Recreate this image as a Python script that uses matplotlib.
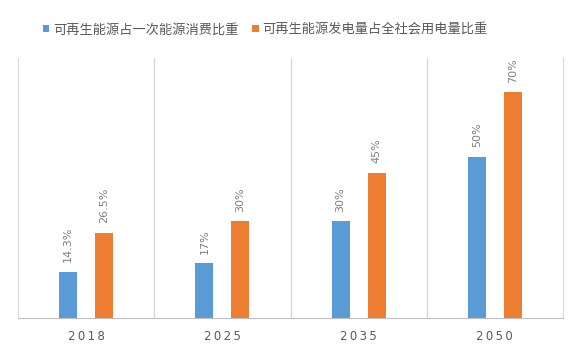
import numpy as np
import matplotlib
matplotlib.use('Agg')
import matplotlib.pyplot as plt

plt.rcParams['font.family'] = ['Noto Sans CJK SC', 'DejaVu Sans']

# data
years = ['2018', '2025', '2035', '2050']
primary_share = [14.3, 17, 30, 50]
power_share = [26.5, 30, 45, 70]
primary_labels = ['14.3%', '17%', '30%', '50%']
power_labels = ['26.5%', '30%', '45%', '70%']
series_names = ['可再生能源占一次能源消费比重', '可再生能源发电量占全社会用电量比重']

blue = '#5B9BD5'
orange = '#ED7D31'
grey = '#595959'
line = '#D9D9D9'

fig = plt.figure(figsize=(5.79, 3.51), dpi=100)
ax = fig.add_axes([18 / 579, 33 / 351, 545 / 579, 260 / 351])

x = np.arange(len(years))
w = 0.132
b1 = ax.bar(x - w, primary_share, w, color=blue, label=series_names[0])
b2 = ax.bar(x + w, power_share, w, color=orange, label=series_names[1])

# value labels, rotated like the original
for bars, labs in ((b1, primary_labels), (b2, power_labels)):
    for r, s in zip(bars, labs):
        ax.text(r.get_x() + r.get_width() / 2, r.get_height() + 3, s,
                rotation=90, ha='center', va='bottom', fontsize=8,
                color='#7F7F7F', family='DejaVu Sans')

ax.set_xlim(-0.5, len(years) - 0.5)
ax.set_ylim(0, 80.7)

# separators between categories
for i in range(1, len(years)):
    ax.axvline(i - 0.5, color=line, lw=1)

ax.spines['top'].set_visible(False)
ax.spines['left'].set_color(line)
ax.spines['right'].set_color(line)
ax.spines['bottom'].set_color('#BFBFBF')

# the original spreads the year digits a little
spaced = ['\u2009'.join(y) for y in years]
ax.set_yticks([])
ax.set_xticks(x)
ax.set_xticklabels(spaced, fontsize=8.5, color=grey, family='DejaVu Sans')
ax.tick_params(axis='x', length=0, pad=9)

fig.legend(handles=[b1, b2], loc='center', bbox_to_anchor=(0.458, 0.915),
           ncol=2, frameon=False, fontsize=9.5, labelcolor=grey,
           handlelength=0.5, handleheight=0.5, handletextpad=0.3,
           columnspacing=1.0)

fig.savefig('out.png', dpi=100)
